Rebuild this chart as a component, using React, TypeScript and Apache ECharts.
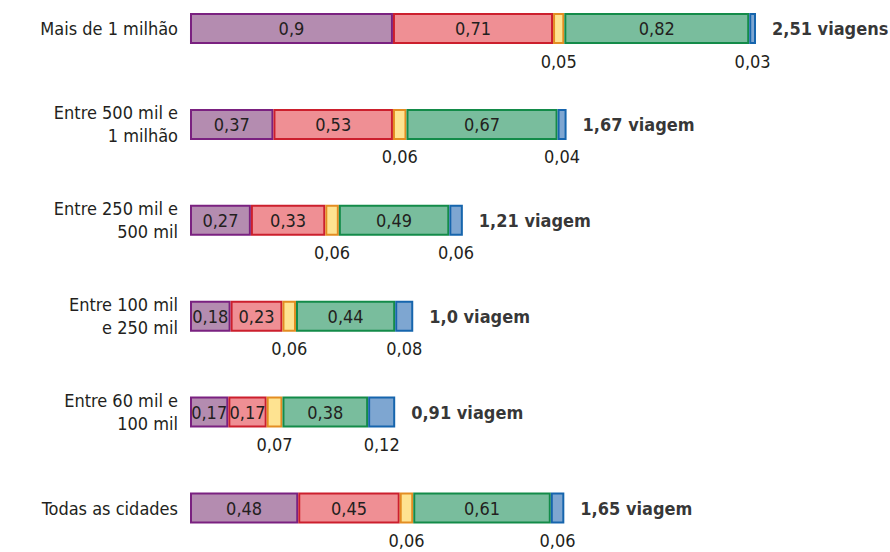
import React, { useEffect, useRef } from "react";
import * as echarts from "echarts";

const categories = [
  "Mais de 1 milhão",
  "Entre 500 mil e\n1 milhão",
  "Entre 250 mil e\n500 mil",
  "Entre 100 mil\ne 250 mil",
  "Entre 60 mil e\n100 mil",
  "Todas as cidades",
];
const purpleValues = [0.9, 0.37, 0.27, 0.18, 0.17, 0.48];
const redValues = [0.71, 0.53, 0.33, 0.23, 0.17, 0.45];
const yellowValues = [0.05, 0.06, 0.06, 0.06, 0.07, 0.06];
const greenValues = [0.82, 0.67, 0.49, 0.44, 0.38, 0.61];
const blueValues = [0.03, 0.04, 0.06, 0.08, 0.12, 0.06];
const totalLabels = ["2,51 viagens", "1,67 viagem", "1,21 viagem", "1,0 viagem", "0,91 viagem", "1,65 viagem"];

const FONT = "'DejaVu Sans Condensed', 'Liberation Sans Narrow', 'Noto Sans', sans-serif";
const TEXT = "#231f20";

const fmt = (v: number) => String(v).replace(".", ",");

export default function App() {
  const ref = useRef<HTMLDivElement>(null);
  useEffect(() => {
    if (!ref.current) return;
    const chart = echarts.init(ref.current, undefined, { renderer: "svg" });
    const mk = (name: string, data: number[], fill: string, border: string, pos: "inside" | "bottom") => ({
      name,
      type: "bar",
      stack: "total",
      barWidth: 31,
      data,
      itemStyle: { color: fill, borderColor: border, borderWidth: 2 },
      label: {
        show: true,
        position: pos,
        distance: 8,
        fontFamily: FONT,
        fontSize: 18,
        lineHeight: 18,
        color: TEXT,
        formatter: (p: any) => fmt(p.value),
      },
    });
    const ends = categories.map(
      (_, i) => purpleValues[i] + redValues[i] + yellowValues[i] + greenValues[i] + blueValues[i]
    );
    chart.setOption({
      animation: false,
      backgroundColor: "#ffffff",
      grid: { left: 190, top: 28.5, width: 566, height: 479.5, outerBoundsMode: "none", containLabel: false },
      xAxis: { type: "value", min: 0, max: 2.51, show: false },
      yAxis: {
        type: "category",
        data: categories,
        inverse: true,
        boundaryGap: false,
        axisLine: { show: false },
        axisTick: { show: false },
        splitLine: { show: false },
        axisLabel: {
          margin: 12,
          fontFamily: FONT,
          fontSize: 18,
          lineHeight: 23,
          color: TEXT,
          align: "right",
        },
      },
      series: [
        mk("roxo", purpleValues, "#b48cb0", "#7a2180", "inside"),
        mk("vermelho", redValues, "#ef8f94", "#cc1f2d", "inside"),
        mk("amarelo", yellowValues, "#fee391", "#e38d22", "bottom"),
        mk("verde", greenValues, "#79bd9d", "#138b49", "inside"),
        mk("azul", blueValues, "#7ea6d1", "#1665ad", "bottom"),
        {
          type: "scatter",
          symbolSize: 0,
          data: ends.map((v, i) => [v, i]),
          label: {
            show: true,
            position: "right",
            distance: 16,
            fontFamily: FONT,
            fontSize: 18,
            fontWeight: "bold",
            color: "#000000",
            formatter: (p: any) => totalLabels[p.dataIndex],
          },
        },
      ],
    });
    return () => chart.dispose();
  }, []);
  return <div ref={ref} style={{ position: "absolute", left: 0, top: 0, width: 890, height: 552 }} />;
}
